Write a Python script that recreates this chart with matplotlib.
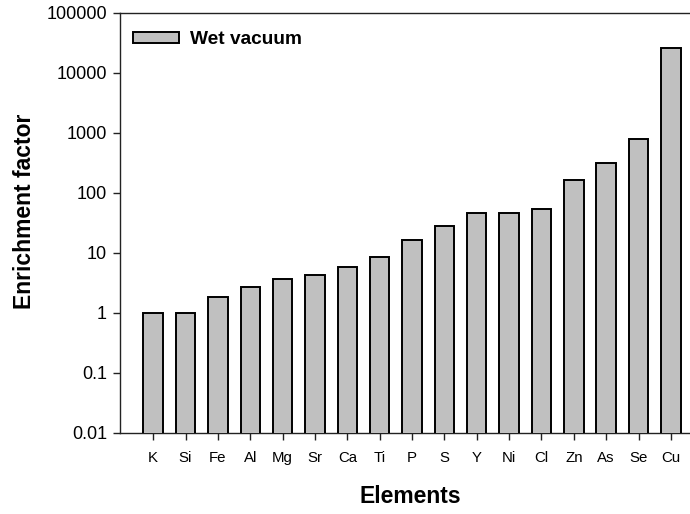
import numpy as np
import matplotlib
matplotlib.use("Agg")
import matplotlib.pyplot as plt

plt.rcParams["font.family"] = ["Liberation Sans", "DejaVu Sans"]

# Enrichment factors per element (wet vacuum dust)
elements = ["K", "Si", "Fe", "Al", "Mg", "Sr", "Ca", "Ti", "P", "S",
            "Y", "Ni", "Cl", "Zn", "As", "Se", "Cu"]
enrichment = [0.98, 1.0, 1.81, 2.65, 3.65, 4.31, 5.86, 8.6, 16.2, 28.3,
              45.6, 45.0, 52.5, 160, 307, 785, 25900]
yticks = [0.01, 0.1, 1, 10, 100, 1000, 10000, 100000]
ytick_labels = ["0.01", "0.1", "1", "10", "100", "1000", "10000", "100000"]

fig = plt.figure(figsize=(6.9, 5.14), dpi=100)
ax = fig.add_axes([0.1732, 0.1582, 0.8268, 0.8171])

x = np.arange(len(elements))
ax.bar(x, enrichment, width=0.6, color="#c0c0c0", edgecolor="black",
       linewidth=1.4, label="Wet vacuum", zorder=3)

ax.set_yscale("log")
ax.set_ylim(0.01, 100000)
ax.set_yticks(yticks)
ax.set_yticklabels(ytick_labels)
ax.yaxis.set_minor_locator(matplotlib.ticker.NullLocator())
ax.set_xlim(-1.04, len(elements) - 1 + 0.59)
ax.set_xticks(x)
ax.set_xticklabels(elements)

ax.spines["right"].set_visible(False)
for s in ["left", "bottom", "top"]:
    ax.spines[s].set_linewidth(1.0)
    ax.spines[s].set_color("#222222")
ax.tick_params(axis="y", direction="out", length=5, width=1, labelsize=13,
               pad=4, color="#222222")
ax.tick_params(axis="x", direction="out", length=5, width=1, labelsize=10.8,
               pad=8, color="#222222")

ax.set_ylabel("Enrichment factor", fontsize=16.5, fontweight="bold")
ax.yaxis.set_label_coords(-0.146, 0.528)
ax.set_xlabel("Elements", fontsize=16.5, fontweight="bold")
ax.xaxis.set_label_coords(0.51, -0.125)

ax.legend(loc="upper left", bbox_to_anchor=(0.024, 0.956), frameon=False,
          borderpad=0, borderaxespad=0, handlelength=2.4, handleheight=0.55,
          handletextpad=0.55, prop={"weight": "bold", "size": 13.8})

fig.savefig("out.png", dpi=100)
